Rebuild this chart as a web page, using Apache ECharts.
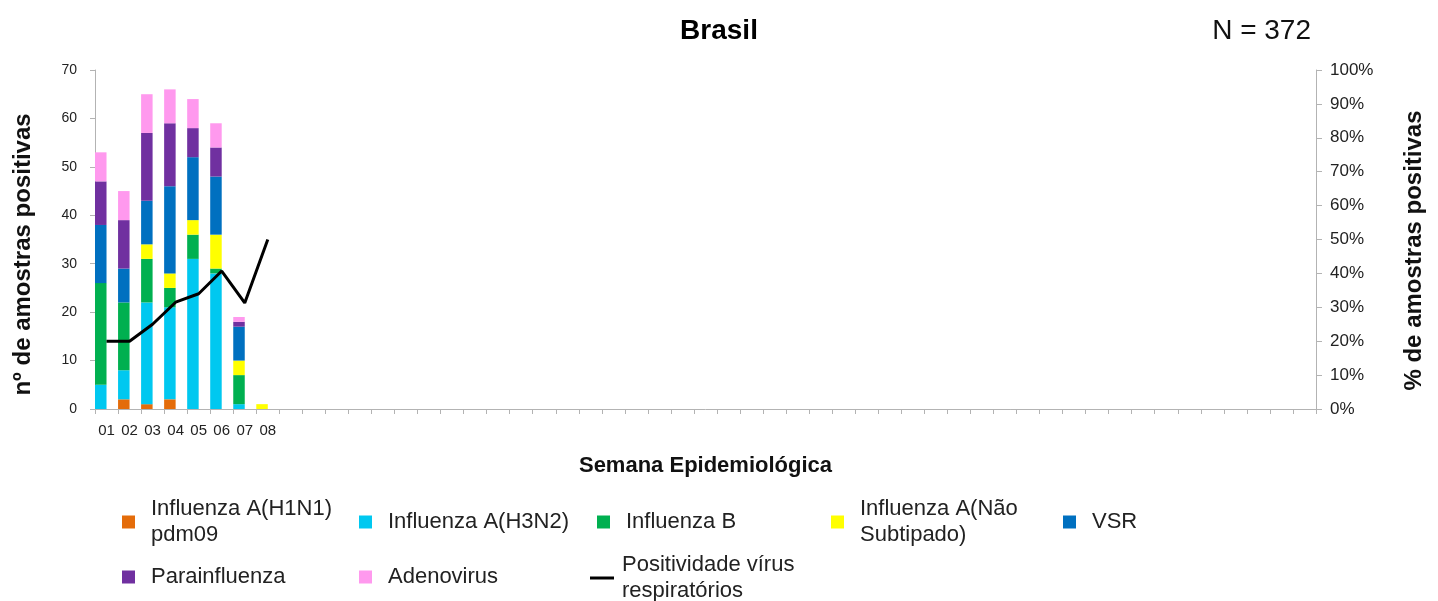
<!DOCTYPE html>
<html>
<head>
<meta charset="utf-8">
<script src="https://cdn.jsdelivr.net/npm/echarts@6/dist/echarts.min.js"></script>
<style>
    html, body { margin: 0; padding: 0; background: #fff; }
    #chart { width: 1438px; height: 601px; }
</style>
</head>
<body>
<div id="chart"></div>
<script>
// semanas epidemiologicas 01..53 (so as 8 primeiras tem rotulo)
var weeks = [];
for (var i = 1; i <= 53; i++) weeks.push(i < 10 ? '0' + i : '' + i);
var labeledWeeks = 8;

var h1n1 = [0, 2, 1, 2, 0, 0, 0, 0];
var h3n2 = [5, 6, 21, 19, 31, 28, 1, 0];
var fluB = [21, 14, 9, 4, 5, 1, 6, 0];
var naoSubtipado = [0, 0, 3, 3, 3, 7, 3, 1];
var vsr = [12, 7, 9, 18, 13, 12, 7, 0];
var parainfluenza = [9, 10, 14, 13, 6, 6, 1, 0];
var adenovirus = [6, 6, 8, 7, 6, 5, 1, 0];
var positividade = [20, 20, 25, 31.5, 34, 40.7, 31.3, 50];

var totalN = 372;

var chart = echarts.init(document.getElementById('chart'));
var font = 'Liberation Sans, Arial, sans-serif';

function barSeries(name, color, data) {
    return {
        name: name,
        type: 'bar',
        stack: 'virus',
        barWidth: 11.5,
        barGap: '0%',
        color: color,
        data: data
    };
}

function legendItem(name, left, top, extra) {
    var l = {
        data: [name],
        left: left,
        top: top,
        padding: 0,
        icon: 'rect',
        itemWidth: 13,
        itemHeight: 13,
        selectedMode: false,
        textStyle: {
            fontFamily: font,
            fontSize: 22,
            color: '#222',
            lineHeight: 26,
            padding: [0, 0, 0, 11]
        }
    };
    for (var k in extra) l[k] = extra[k];
    return l;
}

var option = {
    animation: false,
    textStyle: { fontFamily: font },
    title: [
        {
            text: 'Brasil',
            left: 'center',
            top: 12,
            textStyle: { fontFamily: font, fontSize: 28, fontWeight: 'bold', color: '#000' }
        },
        {
            text: 'N = ' + totalN,
            right: 122,
            top: 12,
            textStyle: { fontFamily: font, fontSize: 28, fontWeight: 'normal', color: '#111' }
        }
    ],
    legend: [
        legendItem('Influenza A(H1N1)\npdm09', 122, 496),
        legendItem('Influenza A(H3N2)', 359, 509),
        legendItem('Influenza B', 597, 509),
        legendItem('Influenza A(Não\nSubtipado)', 831, 496),
        legendItem('VSR', 1063, 509),
        legendItem('Parainfluenza', 122, 564),
        legendItem('Adenovirus', 359, 564),
        legendItem('Positividade vírus\nrespiratórios', 590, 552, { icon: 'rect', itemWidth: 24, itemHeight: 3,
            textStyle: { fontFamily: font, fontSize: 22, color: '#222', lineHeight: 26, padding: [0, 0, 0, 3] } })
    ],
    grid: {
        left: 95,
        right: 122,
        top: 70,
        bottom: 192
    },
    xAxis: {
        type: 'category',
        data: weeks,
        name: 'Semana Epidemiológica',
        nameLocation: 'middle',
        nameGap: 46,
        nameTextStyle: { fontFamily: font, fontSize: 22, fontWeight: 'bold', color: '#111' },
        axisLine: { lineStyle: { color: '#b3b3b3', width: 1 } },
        axisTick: { show: true, interval: 0, length: 5, lineStyle: { color: '#b3b3b3' } },
        axisLabel: {
            interval: 0,
            margin: 14,
            fontSize: 15,
            color: '#222',
            formatter: function (v, idx) { return idx < labeledWeeks ? v : ''; }
        }
    },
    yAxis: [
        {
            type: 'value',
            min: 0,
            max: 70,
            interval: 10,
            name: 'nº de amostras positivas',
            nameLocation: 'middle',
            nameRotate: 90,
            nameGap: 60,
            nameTextStyle: { fontFamily: font, fontSize: 24, fontWeight: 'bold', color: '#111', padding: [0, 30, 0, 0] },
            axisLine: { show: true, lineStyle: { color: '#b3b3b3' } },
            axisTick: { show: true, length: 5, lineStyle: { color: '#b3b3b3' } },
            axisLabel: { fontSize: 14, color: '#222', margin: 18 },
            splitLine: { show: false }
        },
        {
            type: 'value',
            min: 0,
            max: 100,
            interval: 10,
            position: 'right',
            name: '% de amostras positivas',
            nameLocation: 'middle',
            nameRotate: 90,
            nameGap: 86,
            nameTextStyle: { fontFamily: font, fontSize: 24, fontWeight: 'bold', color: '#111', padding: [0, 22, 0, 0] },
            axisLine: { show: true, lineStyle: { color: '#b3b3b3' } },
            axisTick: { show: true, length: 6, lineStyle: { color: '#b3b3b3' } },
            axisLabel: { fontSize: 17, color: '#222', margin: 14, formatter: '{value}%' },
            splitLine: { show: false }
        }
    ],
    series: [
        barSeries('Influenza A(H1N1)\npdm09', '#e46c0a', h1n1),
        barSeries('Influenza A(H3N2)', '#00c8f0', h3n2),
        barSeries('Influenza B', '#00b050', fluB),
        barSeries('Influenza A(Não\nSubtipado)', '#ffff00', naoSubtipado),
        barSeries('VSR', '#0070c0', vsr),
        barSeries('Parainfluenza', '#7030a0', parainfluenza),
        barSeries('Adenovirus', '#ff99ee', adenovirus),
        // pilha vazia ao lado, desloca as barras para a metade esquerda
        { name: 'vazio', type: 'bar', stack: 'vazio', barWidth: 11.5, barGap: '0%', data: [] },
        {
            name: 'Positividade vírus\nrespiratórios',
            type: 'line',
            yAxisIndex: 1,
            color: '#000',
            symbol: 'none',
            lineStyle: { color: '#000', width: 3 },
            data: positividade
        }
    ]
};

chart.setOption(option);
</script>
</body>
</html>
